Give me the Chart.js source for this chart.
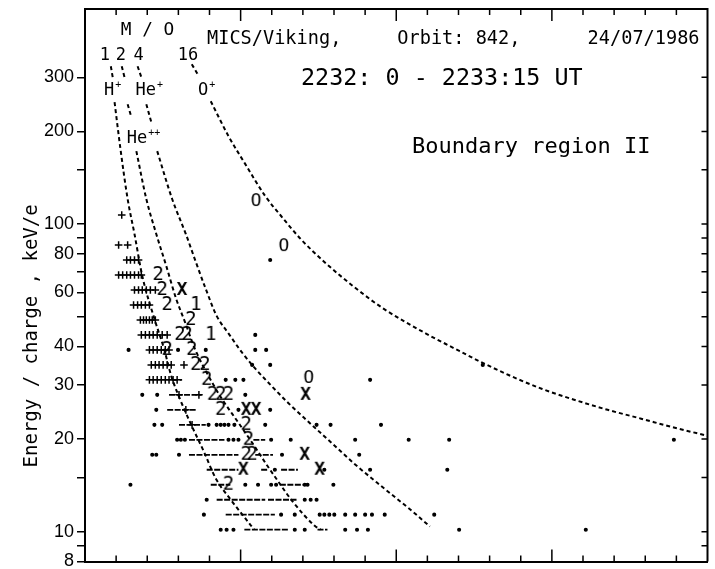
<!DOCTYPE html>
<html>
<head>
<meta charset="utf-8">
<script src="https://cdn.jsdelivr.net/npm/chart.js@4.4.1/dist/chart.umd.min.js"></script>
<style>
  html, body { margin: 0; padding: 0; background: #fff; }
  canvas { display: block; }
</style>
</head>
<body>
<canvas id="tofChart" width="715" height="569"></canvas>
<script>
// energy/charge of each instrument step (keV/e), bottom row first
const rowEnergy = [10.15, 11.36, 12.70, 14.21, 15.90, 17.78, 19.89, 22.25, 24.89, 27.85, 31.15,
    34.84, 38.98, 43.61, 48.78, 54.58, 61.05, 68.30, 76.41, 85.47, 95.61, 106.97];

// marks: [x, row]
const plusMarks = [
    [1.18, 21], [1.08, 19], [1.37, 19],
    [1.34, 18], [1.46, 18], [1.59, 18], [1.72, 18],
    [1.08, 17], [1.21, 17], [1.34, 17], [1.46, 17], [1.59, 17], [1.72, 17], [1.81, 17],
    [1.59, 16], [1.72, 16], [1.84, 16], [1.97, 16], [2.10, 16], [2.26, 16],
    [1.56, 15], [1.69, 15], [1.81, 15], [1.94, 15], [2.07, 15],
    [1.78, 14], [1.88, 14], [1.97, 14], [2.07, 14], [2.16, 14], [2.26, 14],
    [1.81, 13], [1.94, 13], [2.07, 13], [2.19, 13], [2.32, 13], [2.48, 13], [2.64, 13],
    [2.07, 12], [2.19, 12], [2.32, 12], [2.45, 12], [2.58, 12], [2.70, 12],
    [2.13, 11], [2.26, 11], [2.38, 11], [2.51, 11], [2.64, 11], [2.77, 11], [3.18, 11],
    [2.07, 10], [2.19, 10], [2.32, 10], [2.45, 10], [2.58, 10], [2.70, 10], [2.83, 10], [2.96, 10],
    [3.02, 9], [3.66, 9], [3.24, 8], [3.44, 7]
];

// horizontal dash runs: [xStart, xEnd, row]
const dashRuns = [
    [2.80, 3.12, 10], [2.70, 3.75, 9], [2.64, 3.56, 8], [3.02, 3.88, 7],
    [3.34, 4.48, 6], [5.41, 5.79, 6], [3.34, 4.93, 5], [5.47, 6.04, 5],
    [3.91, 4.93, 4], [5.66, 5.88, 4], [6.30, 6.84, 4], [4.04, 4.67, 3], [6.26, 7.00, 3],
    [4.23, 5.79, 2], [5.88, 6.84, 2], [4.52, 6.10, 1], [5.12, 6.52, 0], [7.47, 7.79, 0]
];

const dotMarks = [
    [5.95, 18], [5.47, 13],
    [1.40, 12], [2.99, 12], [3.88, 12], [5.47, 12], [5.82, 12],
    [5.37, 11], [5.95, 11], [12.78, 11],
    [4.52, 10], [4.83, 10], [5.09, 10], [9.16, 10],
    [1.84, 9], [2.32, 9], [5.15, 9],
    [2.29, 8], [4.93, 8], [5.95, 8],
    [2.23, 7], [2.48, 7], [3.97, 7], [4.23, 7], [4.36, 7], [4.48, 7], [4.61, 7], [4.80, 7],
    [5.79, 7], [7.44, 7], [7.89, 7], [9.51, 7],
    [2.96, 6], [3.08, 6], [3.21, 6], [4.61, 6], [4.77, 6], [4.93, 6], [5.98, 6], [6.61, 6],
    [8.68, 6], [10.40, 6], [11.70, 6], [18.92, 6],
    [2.16, 5], [2.29, 5], [3.02, 5], [6.33, 5], [8.81, 5],
    [6.10, 4], [7.69, 4], [9.16, 4], [11.64, 4],
    [1.46, 3], [5.15, 3], [5.56, 3], [5.98, 3], [6.14, 3], [7.06, 3], [7.15, 3], [7.98, 3],
    [3.91, 2], [7.06, 2], [7.25, 2], [7.44, 2],
    [3.82, 1], [6.30, 1], [6.74, 1], [7.54, 1], [7.69, 1], [7.85, 1], [8.01, 1], [8.36, 1],
    [8.68, 1], [9.00, 1], [9.22, 1], [9.63, 1], [11.22, 1],
    [4.36, 0], [4.55, 0], [4.77, 0], [6.74, 0], [7.06, 0], [8.36, 0], [8.74, 0], [9.09, 0],
    [12.02, 0], [16.09, 0]
];

const twoMarks = [
    [2.35, 17], [2.48, 16], [2.64, 15], [3.40, 14], [3.05, 13], [3.28, 13],
    [2.64, 12], [3.43, 12], [3.56, 11], [3.85, 11], [3.91, 10],
    [4.10, 9], [4.36, 9], [4.61, 9], [4.36, 8], [5.18, 7], [5.25, 6],
    [5.18, 5], [5.37, 5], [4.61, 3]
];
const crossMarks = [[3.12, 16], [7.09, 9], [5.18, 8], [5.50, 8], [7.06, 5], [5.09, 4], [7.54, 4]];
const oneMarks = [[3.56, 15], [4.04, 13]];
// O marks sit between steps: [x, keV/e]
const oMarks = [[5.50, 118.8], [6.39, 84.8], [7.19, 31.6]];

// mass/charge lines: [x, keV/e], null = hidden behind a label
const curveM1 = [[0.83, 325.8], [0.89, 300.1], null,
    [0.95, 248.9], [1.14, 175.2], [1.37, 120.6], [1.59, 92.8], [1.84, 67.8], [2.23, 49.2],
    [2.54, 39.3], [2.77, 32.1], [3.05, 27.0], [3.40, 22.4], [3.82, 18.2], [4.20, 14.9],
    [4.71, 12.6], [5.34, 10.45], [5.44, 10.15]];
const curveM2 = [[1.18, 325.8], [1.27, 300.1], null, [1.37, 245.2], [1.49, 222.5], null,
    [1.65, 172.6], [1.97, 120.6], [2.29, 92.8], [2.61, 73.1], [2.93, 57.1], [3.21, 48.1],
    [3.53, 39.3], [3.88, 33.3], [4.36, 27.4], [4.93, 22.6], [5.41, 19.2], [5.82, 16.6],
    [6.20, 14.6], [6.68, 12.5], [7.38, 10.45], [7.57, 10.15]];
const curveM4 = [[1.69, 325.8], [1.81, 300.1], null, [1.97, 245.2], [2.13, 214.4], null,
    [2.32, 172.6], [2.80, 120.6], [3.24, 92.8], [3.56, 75.3], [3.88, 61.5], [4.23, 50.3],
    [4.62, 43.97], [5.03, 38.4], [5.48, 33.8], [5.96, 30.0], [6.53, 26.2], [7.17, 22.8],
    [8.03, 19.0], [8.66, 16.6], [9.62, 13.8], [10.45, 11.8], [11.08, 10.4]];
const curveM16 = [[3.43, 330.8], [3.66, 302.4], null, [4.04, 250.8], [4.61, 193.1],
    [5.15, 156.6], [5.79, 123.3], [6.30, 106.2], [6.93, 89.4], [7.69, 75.3], [8.65, 62.4],
    [9.60, 53.0], [10.97, 43.97], [11.83, 39.6], [12.65, 35.9], [13.61, 32.3], [14.69, 29.1],
    [15.74, 26.8], [16.79, 24.9], [17.87, 23.3], [18.92, 21.8], [20.0, 20.5]];

// axis ticks
const yTickValues = [8, 9, 10, 15, 20, 30, 40, 50, 60, 70, 80, 90, 100, 150, 200, 300];
const yTickLabels = ['8', '', '10', '', '20', '30', '40', '', '60', '', '80', '', '100', '', '200', '300'];
const xMinorTicks = [1, 2, 3, 4, 6, 7, 8, 9, 11, 12, 13, 14, 16, 17, 18, 19];
const xMajorTicks = [5, 10, 15];

// text in the plot: [text, superscript, x, keV/e, font px, align]
const plotLabels = [
    ['MICS/Viking,     Orbit: 842,      24/07/1986', '', 3.92, 400, 18.6, 'left'],
    ['2232: 0 - 2233:15 UT', '', 6.94, 295.7, 23.4, 'left'],
    ['Boundary region II', '', 10.51, 177.8, 22, 'left'],
    ['M / O', '', 1.15, 426.6, 17.8, 'left'],
    ['1', '', 0.64, 353.9, 17, 'center'],
    ['2', '', 1.15, 353.9, 17, 'center'],
    ['4', '', 1.72, 353.9, 17, 'center'],
    ['16', '', 3.31, 353.9, 17, 'center'],
    ['H', '+', 0.61, 271.3, 17, 'left'],
    ['He', '+', 1.62, 271.3, 17, 'left'],
    ['O', '+', 3.63, 271.3, 17, 'left'],
    ['He', '++', 1.34, 190.2, 17, 'left']
];
const yTitle = 'Energy / charge , keV/e';
const yTitleCenter = 43.3;

const MONO = '"DejaVu Sans Mono", monospace';

function glyph(ch, size, bold) {
    const c = document.createElement('canvas');
    c.width = 20;
    c.height = 24;
    const g = c.getContext('2d');
    g.font = (bold ? 'bold ' : '') + size + 'px ' + MONO;
    g.fillStyle = '#000';
    g.textAlign = 'center';
    g.textBaseline = 'middle';
    g.fillText(ch, 10, 12);
    return c;
}

function rowPoints(list) {
    return list.map(([x, r]) => ({ x: x, y: rowEnergy[r] }));
}

function runPoints(list) {
    const out = [];
    list.forEach(([x1, x2, r]) => {
        out.push({ x: x1, y: rowEnergy[r] }, { x: x2, y: rowEnergy[r] }, { x: x2, y: null });
    });
    return out;
}

function curvePoints(list) {
    let lastX = 0;
    return list.map(p => {
        if (!p) return { x: lastX, y: null };
        lastX = p[0];
        return { x: p[0], y: p[1] };
    });
}

function markSet(data, style, radius) {
    return {
        data: data,
        showLine: false,
        pointStyle: style,
        pointRadius: radius,
        pointBorderColor: '#000',
        pointBackgroundColor: '#000',
        pointBorderWidth: 1.5
    };
}

function curveSet(data) {
    return {
        data: curvePoints(data),
        showLine: true,
        spanGaps: false,
        borderColor: '#000',
        borderWidth: 2,
        borderDash: [4, 3],
        pointRadius: 0,
        cubicInterpolationMode: 'monotone'
    };
}

// frame, inward ticks and the in-plot texts
const framePlugin = {
    id: 'frame',
    afterDraw(chart) {
        const { ctx, chartArea: a, scales: { x, y } } = chart;
        ctx.save();
        ctx.strokeStyle = '#000';
        ctx.lineWidth = 2;
        ctx.beginPath();
        ctx.moveTo(a.left, a.top);
        ctx.lineTo(a.right, a.top);
        ctx.lineTo(a.right, a.bottom);
        ctx.stroke();

        ctx.lineWidth = 1.5;
        ctx.beginPath();
        const xTick = (v, len) => {
            const px = x.getPixelForValue(v);
            ctx.moveTo(px, a.bottom);
            ctx.lineTo(px, a.bottom - len);
            ctx.moveTo(px, a.top);
            ctx.lineTo(px, a.top + len);
        };
        xMinorTicks.forEach(v => xTick(v, 6));
        xMajorTicks.forEach(v => xTick(v, 12));
        yTickValues.slice(1).forEach(v => {
            const py = y.getPixelForValue(v);
            ctx.moveTo(a.right, py);
            ctx.lineTo(a.right - 6, py);
        });
        ctx.stroke();

        ctx.fillStyle = '#000';
        ctx.textBaseline = 'middle';
        plotLabels.forEach(([text, sup, vx, vy, size, align]) => {
            const px = x.getPixelForValue(vx);
            const py = y.getPixelForValue(vy);
            ctx.font = size + 'px ' + MONO;
            ctx.textAlign = align;
            ctx.fillText(text, px, py);
            if (sup) {
                const w = ctx.measureText(text).width;
                ctx.font = Math.round(size * 0.6) + 'px ' + MONO;
                ctx.textAlign = 'left';
                ctx.fillText(sup, px + w + 1, py - size * 0.3);
            }
        });

        ctx.translate(a.left - 53, y.getPixelForValue(yTitleCenter));
        ctx.rotate(-Math.PI / 2);
        ctx.font = '19px ' + MONO;
        ctx.textAlign = 'center';
        ctx.fillText(yTitle, 0, 0);
        ctx.restore();
    }
};

new Chart(document.getElementById('tofChart'), {
    type: 'scatter',
    data: {
        datasets: [
            curveSet(curveM1),
            curveSet(curveM2),
            curveSet(curveM4),
            curveSet(curveM16),
            {
                data: runPoints(dashRuns),
                showLine: true,
                spanGaps: false,
                borderColor: '#000',
                borderWidth: 1.8,
                borderDash: [6, 1.5],
                pointRadius: 0
            },
            markSet(rowPoints(plusMarks), 'cross', 3.8),
            markSet(rowPoints(dotMarks), 'circle', 1.3),
            markSet(rowPoints(twoMarks), glyph('2', 19, false), 6),
            markSet(rowPoints(crossMarks), glyph('X', 18, true), 6),
            markSet(rowPoints(oneMarks), glyph('1', 19, false), 6),
            markSet(oMarks.map(([vx, vy]) => ({ x: vx, y: vy })), glyph('O', 18, false), 6)
        ]
    },
    options: {
        responsive: false,
        animation: false,
        devicePixelRatio: 1,
        layout: { padding: { top: 9, right: 2, bottom: 6, left: 0 } },
        plugins: { legend: { display: false }, tooltip: { enabled: false } },
        scales: {
            x: {
                type: 'linear',
                min: 0,
                max: 20,
                grid: { display: false },
                ticks: { display: false },
                border: { display: true, color: '#000', width: 2 },
                afterFit: scale => { scale.height = 0; scale.paddingLeft = 0; scale.paddingRight = 0; }
            },
            y: {
                type: 'logarithmic',
                min: 8,
                max: 500,
                afterBuildTicks: scale => {
                    scale.ticks = yTickValues.map(v => ({ value: v }));
                },
                ticks: {
                    autoSkip: false,
                    color: '#000',
                    padding: 3,
                    font: { family: '"Liberation Sans", Arial, sans-serif', size: 18 },
                    callback: (value) => {
                        const i = yTickValues.indexOf(value);
                        return i >= 0 ? yTickLabels[i] : '';
                    }
                },
                grid: { drawOnChartArea: false, drawTicks: true, tickLength: 8, color: '#000', lineWidth: 1.5 },
                border: { display: true, color: '#000', width: 2 },
                afterFit: scale => { scale.width = 85; scale.paddingTop = 0; scale.paddingBottom = 0; }
            }
        }
    },
    plugins: [framePlugin]
});
</script>
</body>
</html>
